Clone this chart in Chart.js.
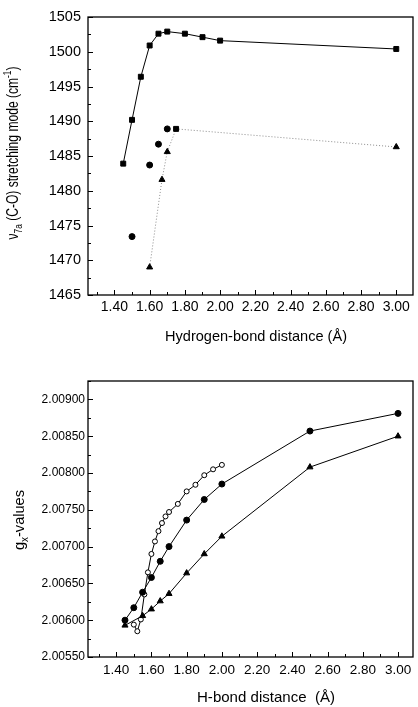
<!DOCTYPE html>
<html>
<head>
<meta charset="utf-8">
<script src="https://cdn.jsdelivr.net/npm/chart.js@4.4.0/dist/chart.umd.min.js"></script>
<style>
  html, body { margin: 0; padding: 0; background: #fff; }
  #wrap { position: relative; width: 418px; height: 707px; }
  canvas { position: absolute; left: 0; }
  #c1 { top: 0; }
  #c2 { top: 345px; }
</style>
</head>
<body>
<div id="wrap">
  <canvas id="c1" width="418" height="345" style="width:418px;height:345px"></canvas>
  <canvas id="c2" width="418" height="362" style="width:418px;height:362px"></canvas>
</div>
<script>
// panel 1: v7a (C-O) stretching mode
const sqX = [1.45, 1.50, 1.55, 1.60, 1.65, 1.70, 1.80, 1.90, 2.00, 3.00];
const sqY = [1483.9, 1490.2, 1496.4, 1500.9, 1502.6, 1502.9, 1502.6, 1502.1, 1501.6, 1500.4];
const dotX = [1.50, 1.60, 1.65, 1.70];
const dotY = [1473.4, 1483.7, 1486.7, 1488.9];
const triX = [1.60, 1.67, 1.70, 1.75, 3.00];
const triY = [1469.0, 1481.6, 1485.6, 1488.9, 1486.3];
const topXTicks = [1.40, 1.60, 1.80, 2.00, 2.20, 2.40, 2.60, 2.80, 3.00];
const topYTicks = [1465, 1470, 1475, 1480, 1485, 1490, 1495, 1500, 1505];

// panel 2: gx-values
const gFillX = [1.45, 1.50, 1.55, 1.60, 1.65, 1.70, 1.80, 1.90, 2.00, 2.50, 3.00];
const gFillY = [2.00600, 2.00617, 2.00638, 2.00658, 2.00680, 2.00700, 2.00736, 2.00764, 2.00785, 2.00857, 2.00881];
const gTriX = [1.45, 1.55, 1.60, 1.65, 1.70, 1.80, 1.90, 2.00, 2.50, 3.00];
const gTriY = [2.00593, 2.00606, 2.00615, 2.00626, 2.00636, 2.00664, 2.00690, 2.00714, 2.00808, 2.00850];
const gOpenX = [1.50, 1.52, 1.54, 1.56, 1.58, 1.60, 1.62, 1.64, 1.66, 1.68, 1.70, 1.75, 1.80, 1.85, 1.90, 1.95, 2.00];
const gOpenY = [2.00594, 2.00585, 2.00601, 2.00635, 2.00665, 2.00690, 2.00707, 2.00721, 2.00732, 2.00741, 2.00747, 2.00758, 2.00775, 2.00784, 2.00797, 2.00805, 2.00811];
const botXTicks = [1.40, 1.60, 1.80, 2.00, 2.20, 2.40, 2.60, 2.80, 3.00];
const botYTicks = [2.00550, 2.00600, 2.00650, 2.00700, 2.00750, 2.00800, 2.00850, 2.00900];

const FAMILY = "'Liberation Sans', Arial, sans-serif";

const pts = (xs, ys) => xs.map((x, i) => ({ x: x, y: ys[i] }));
const mids = arr => arr.slice(0, -1).map((v, i) => (v + arr[i + 1]) / 2);

// text with sub/superscripts, squeezed to the width measured on the reference
function drawRich(ctx, t) {
    ctx.save();
    ctx.translate(t.x, t.y);
    if (t.rotate) ctx.rotate(-Math.PI / 2);
    ctx.textAlign = 'left';
    ctx.textBaseline = 'alphabetic';
    ctx.fillStyle = '#000';
    let w = 0;
    t.parts.forEach(p => {
        ctx.font = p.size + 'px ' + FAMILY;
        p.w = ctx.measureText(p.t).width;
        w += p.w;
    });
    ctx.scale(t.width / w, 1);
    let px = -w / 2;
    t.parts.forEach(p => {
        ctx.font = p.size + 'px ' + FAMILY;
        ctx.fillText(p.t, px, p.dy || 0);
        px += p.w;
    });
    ctx.restore();
}

// frame, inward tick marks and axis titles
const framePlugin = {
    id: 'frame',
    afterDraw(chart, args, o) {
        const { ctx, chartArea: a } = chart;
        const sx = chart.scales.x, sy = chart.scales.y;
        ctx.save();
        ctx.strokeStyle = '#000';
        ctx.lineWidth = 1.3;
        ctx.strokeRect(a.left, a.top, a.right - a.left, a.bottom - a.top);
        ctx.lineWidth = 1;
        ctx.beginPath();
        o.xTicks.forEach(v => {
            const p = Math.round(sx.getPixelForValue(v)) + 0.5;
            ctx.moveTo(p, a.bottom); ctx.lineTo(p, a.bottom - 5);
        });
        o.xMinor.forEach(v => {
            const p = sx.getPixelForValue(v);
            if (p < a.left || p > a.right) return;
            ctx.moveTo(Math.round(p) + 0.5, a.bottom); ctx.lineTo(Math.round(p) + 0.5, a.bottom - 3);
        });
        o.yTicks.forEach(v => {
            const p = Math.round(sy.getPixelForValue(v)) + 0.5;
            ctx.moveTo(a.left, p); ctx.lineTo(a.left + 5, p);
        });
        o.yMinor.forEach(v => {
            const p = Math.round(sy.getPixelForValue(v)) + 0.5;
            ctx.moveTo(a.left, p); ctx.lineTo(a.left + 3, p);
        });
        ctx.stroke();
        ctx.restore();
        drawRich(ctx, o.xTitle);
        drawRich(ctx, o.yTitle);
    }
};

function axes(xMin, xMax, xTicks, xFont, xPad, yMin, yMax, yTicks, yFmt, yFont, yPad) {
    return {
        x: {
            type: 'linear', min: xMin, max: xMax,
            grid: { display: false, drawTicks: false },
            border: { display: false },
            afterBuildTicks: s => { s.ticks = xTicks.map(v => ({ value: v })); },
            afterFit: s => { s.height = 50; },
            ticks: {
                color: '#000', padding: xPad, maxRotation: 0, autoSkip: false,
                font: { family: FAMILY, size: xFont },
                callback: v => v.toFixed(2)
            }
        },
        y: {
            type: 'linear', min: yMin, max: yMax,
            grid: { display: false, drawTicks: false },
            border: { display: false },
            afterBuildTicks: s => { s.ticks = yTicks.map(v => ({ value: v })); },
            afterFit: s => { s.width = 88; },
            ticks: {
                color: '#000', padding: yPad, autoSkip: false,
                font: { family: FAMILY, size: yFont },
                callback: yFmt
            }
        }
    };
}

new Chart(document.getElementById('c1'), {
    type: 'scatter',
    data: {
        datasets: [{
            data: pts(sqX, sqY), showLine: true,
            borderColor: '#000', borderWidth: 1,
            pointStyle: 'rect', pointRadius: 3.5,
            pointBackgroundColor: '#000', pointBorderColor: '#000'
        }, {
            data: pts(dotX, dotY), showLine: false,
            pointStyle: 'circle', pointRadius: 3,
            pointBackgroundColor: '#000', pointBorderColor: '#000'
        }, {
            data: pts(triX, triY), showLine: true,
            borderColor: '#8a8a8a', borderWidth: 1, borderDash: [1, 2],
            pointStyle: ['triangle', 'triangle', 'triangle', 'rect', 'triangle'],
            pointRadius: 3.5,
            pointBackgroundColor: '#000', pointBorderColor: '#000'
        }]
    },
    options: {
        responsive: false, animation: false,
        layout: { padding: { top: 17, right: 1, left: 0, bottom: 0 } },
        scales: axes(1.25, 3.095, topXTicks, 14, 4, 1465, 1505, topYTicks, v => String(v), 14.5, 7),
        plugins: {
            legend: { display: false },
            tooltip: { enabled: false },
            frame: {
                xTicks: topXTicks, xMinor: [1.30].concat(mids(topXTicks)),
                yTicks: topYTicks, yMinor: mids(topYTicks),
                xTitle: { x: 256, y: 341, width: 182, parts: [{ t: 'Hydrogen-bond distance (\u00C5)', size: 15 }] },
                yTitle: {
                    x: 18, y: 153, width: 173, rotate: true, parts: [
                        { t: '\u03BD', size: 16 },
                        { t: '7a', size: 11, dy: 4 },
                        { t: ' (C-O) stretching mode (cm', size: 16 },
                        { t: '-1', size: 11, dy: -7 },
                        { t: ')', size: 16 }
                    ]
                }
            }
        }
    },
    plugins: [framePlugin]
});

new Chart(document.getElementById('c2'), {
    type: 'scatter',
    data: {
        datasets: [{
            data: pts(gFillX, gFillY), showLine: true,
            borderColor: '#000', borderWidth: 1,
            pointStyle: 'circle', pointRadius: 3,
            pointBackgroundColor: '#000', pointBorderColor: '#000'
        }, {
            data: pts(gTriX, gTriY), showLine: true,
            borderColor: '#000', borderWidth: 1,
            pointStyle: 'triangle', pointRadius: 3.5,
            pointBackgroundColor: '#000', pointBorderColor: '#000'
        }, {
            data: pts(gOpenX, gOpenY), showLine: true,
            borderColor: '#000', borderWidth: 1,
            pointStyle: 'circle', pointRadius: 2.5, pointBorderWidth: 1,
            pointBackgroundColor: '#fff', pointBorderColor: '#000'
        }]
    },
    options: {
        responsive: false, animation: false,
        layout: { padding: { top: 36, right: 1, left: 0, bottom: 0 } },
        scales: axes(1.24, 3.085, botXTicks, 13.5, 5, 2.0055, 2.00925, botYTicks, v => v.toFixed(5), 12, 3),
        plugins: {
            legend: { display: false },
            tooltip: { enabled: false },
            frame: {
                xTicks: botXTicks, xMinor: [1.30].concat(mids(botXTicks)),
                yTicks: botYTicks, yMinor: mids(botYTicks).concat([2.00925]),
                xTitle: { x: 266, y: 357, width: 138, parts: [{ t: 'H-bond distance  (\u00C5)', size: 15 }] },
                yTitle: {
                    x: 24, y: 175, width: 60, rotate: true, parts: [
                        { t: 'g', size: 15 },
                        { t: 'x', size: 10, dy: 4 },
                        { t: '-values', size: 15 }
                    ]
                }
            }
        }
    },
    plugins: [framePlugin]
});
</script>
</body>
</html>
